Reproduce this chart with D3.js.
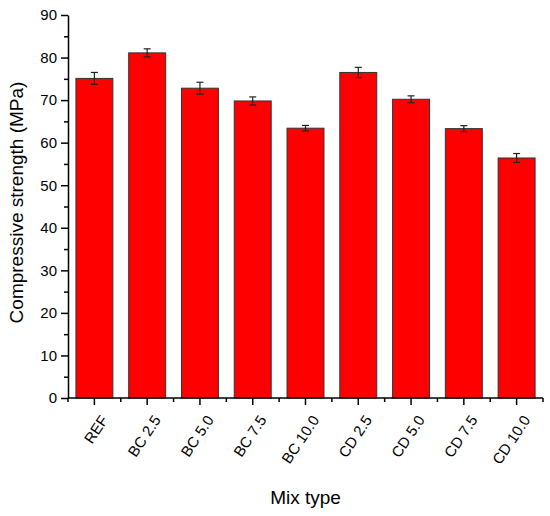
<!DOCTYPE html>
<html><head><meta charset="utf-8">
<script src="https://cdn.jsdelivr.net/npm/d3@7"></script>
<style>body{margin:0;background:#fff}svg{display:block}text{font-family:"Liberation Sans",Arial,sans-serif;fill:#000}</style>
</head><body><svg id="c" width="550" height="516"></svg>
<script>
const categories = ["REF","BC 2.5","BC 5.0","BC 7.5","BC 10.0","CD 2.5","CD 5.0","CD 7.5","CD 10.0"];
const strength = [75.1, 81.1, 72.8, 69.8, 63.4, 76.5, 70.2, 63.3, 56.4];
const errors = [1.4, 0.95, 1.4, 0.95, 0.65, 1.2, 0.8, 0.7, 1.05];
const yTicks = [0,10,20,30,40,50,60,70,80,90];

const svg = d3.select("#c");
const L = 68, R = 543, T = 15, B = 398;
const x = d3.scaleBand().domain(categories).range([L, R]).paddingInner(0.3).paddingOuter(0.15);
const y = d3.scaleLinear().domain([0, 90]).range([B, T]);

// bars
svg.append("g").selectAll("rect").data(categories).join("rect")
  .attr("x", d => x(d)).attr("width", x.bandwidth())
  .attr("y", (d,i) => y(strength[i])).attr("height", (d,i) => B - y(strength[i]))
  .attr("fill", "#ff0000").attr("stroke", "#333").attr("stroke-width", 1);

// error bars
const eg = svg.append("g").attr("stroke", "#222").attr("stroke-width", 1.2);
categories.forEach((c, i) => {
  const cx = x(c) + x.bandwidth()/2;
  const hi = y(strength[i] + errors[i]), lo = y(strength[i] - errors[i]);
  eg.append("line").attr("x1", cx).attr("x2", cx).attr("y1", hi).attr("y2", lo);
  eg.append("line").attr("x1", cx-3.5).attr("x2", cx+3.5).attr("y1", hi).attr("y2", hi);
  eg.append("line").attr("x1", cx-3.5).attr("x2", cx+3.5).attr("y1", lo).attr("y2", lo);
});

// y axis
const yAxis = d3.axisLeft(y).tickValues(yTicks).tickSize(7).tickSizeOuter(0).tickPadding(4);
const gy = svg.append("g").attr("transform", `translate(${L},0)`).call(yAxis);
gy.selectAll("text").style("font-size", "15px");
gy.select(".domain").attr("stroke-width", 1.5);
gy.selectAll(".tick line").attr("stroke-width", 1.5);
const yMinor = d3.axisLeft(y).tickValues(yTicks.slice(0,-1).map(v => v + 5)).tickSize(4).tickFormat("");
const gym = svg.append("g").attr("transform", `translate(${L},0)`).call(yMinor);
gym.select(".domain").remove();
gym.selectAll(".tick line").attr("stroke-width", 1.5);

// x axis
const xAxis = d3.axisBottom(x).tickSize(7).tickSizeOuter(0).tickFormat("");
const gx = svg.append("g").attr("transform", `translate(0,${B})`).call(xAxis);
gx.select(".domain").attr("stroke-width", 1.5).attr("d", `M${L},0H${R}`);
gx.selectAll(".tick line").attr("stroke-width", 1.5);
const bounds = d3.range(categories.length + 1).map(i => L + i * (R - L) / categories.length);
svg.append("g").selectAll("line").data(bounds).join("line")
  .attr("x1", d => d).attr("x2", d => d).attr("y1", B).attr("y2", B + 4)
  .attr("stroke", "#000").attr("stroke-width", 1.5);

// x labels rotated
svg.append("g").selectAll("text").data(categories).join("text")
  .attr("transform", d => `translate(${x(d) + x.bandwidth()/2 + 10},${B + 19}) rotate(-56)`)
  .attr("text-anchor", "end").attr("dy", "0.35em")
  .style("font-size", "15px").text(d => d);

// titles
svg.append("text").attr("transform", `translate(23,${(T+B)/2 - 4}) rotate(-90)`)
  .attr("text-anchor", "middle").style("font-size", "19px").text("Compressive strength (MPa)");
svg.append("text").attr("x", (L+R)/2).attr("y", 504)
  .attr("text-anchor", "middle").style("font-size", "19px").text("Mix type");
</script></body></html>
